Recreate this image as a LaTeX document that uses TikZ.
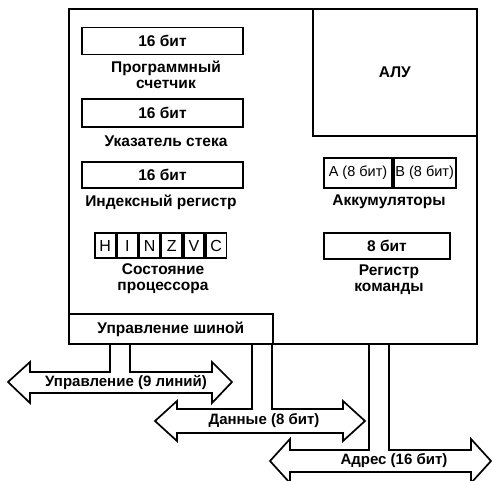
\documentclass[tikz,border=0pt]{standalone}
\usepackage{fontspec}
\setmainfont{Liberation Sans}
\usetikzlibrary{positioning}

\begin{document}
\begin{tikzpicture}[
    x=1pt, y=-1pt,
    line width=1.7pt,
    box/.style={rectangle, draw, inner sep=0pt},
    reg/.style={box, minimum width=161pt, minimum height=27pt, font=\bfseries\fontsize{15.5}{17}\selectfont},
    caption/.style={align=center, inner sep=0pt, font=\bfseries\fontsize{15.5}{16}\selectfont},
    buslbl/.style={inner sep=0pt, font=\bfseries\fontsize{15}{17}\selectfont},
    flag/.style={box, minimum width=20.5pt, minimum height=25pt, font=\fontsize{16}{18}\selectfont},
    acc/.style={box, minimum height=30pt, font=\fontsize{14.5}{16}\selectfont},
    bus/.style={draw, line join=miter}
]
    \useasboundingbox (0,0) rectangle (492,481);

    % Processor and ALU
    \node[box, minimum width=408pt, minimum height=335pt, anchor=north west] (cpu) at (68,8) {};
    \node[box, minimum width=164pt, minimum height=127pt, anchor=north east, font=\bfseries\fontsize{15.5}{17}\selectfont] (alu) at (cpu.north east) {АЛУ};

    % 16-bit registers
    \node[reg] (pc) at (162.5,41) {16 бит};
    \node[caption] (pclbl) at (166,74.5) {Программный\\счетчик};
    \node[reg, minimum height=28pt] (sp) at (162.5,113) {16 бит};
    \node[caption] (splbl) at (166,141) {Указатель стека};
    \node[reg, minimum height=26pt] (ix) at (162.5,175) {16 бит};
    \node[caption] (ixlbl) at (161,202) {Индексный регистр};

    % Status flags
    \node[flag] (fh) at (105.25,245.5) {H};
    \node[flag, right=0pt of fh] (fi) {I};
    \node[flag, right=0pt of fi] (fn) {N};
    \node[flag, right=0pt of fn] (fz) {Z};
    \node[flag, right=0pt of fz] (fv) {V};
    \node[flag, right=0pt of fv] (fc) {C};
    \node[caption] (flaglbl) at (163,278.5) {Состояние\\процессора};

    % Accumulators and instruction register
    \node[acc, minimum width=68pt] (acca) at (358,173) {A (8 бит)};
    \node[acc, minimum width=62pt, right=0pt of acca] (accb) {B (8 бит)};
    \node[caption] (acclbl) at (389,202) {Аккумуляторы};
    \node[reg, minimum width=126pt, minimum height=26pt] (ir) at (387,246) {8 бит};
    \node[caption] (irlbl) at (389,280) {Регистр\\команды};

    % Bus control
    \node[box, minimum width=204pt, minimum height=30pt, anchor=south west, font=\bfseries\fontsize{15.5}{17}\selectfont] (busctl) at (cpu.south west) {Управление шиной};

    % Buses
    \draw[bus] (busctl.south -| 110,0) -- (110,372) -- (30,372) -- (30,362) -- (8,382) -- (30,403) -- (30,393)
        -- (212,393) -- (212,403) -- (232,382) -- (212,362) -- (212,372) -- (130,372) -- (busctl.south -| 130,0);
    \node[buslbl] (ctlbus) at (126,382) {Управление (9 линий)};

    \draw[bus] (cpu.south -| 252,0) -- (252,409) -- (177,409) -- (177,401) -- (155,421) -- (177,441) -- (177,433)
        -- (343,433) -- (343,441) -- (365,421) -- (343,401) -- (343,409) -- (272,409) -- (cpu.south -| 272,0);
    \node[buslbl] (databus) at (264,421) {Данные (8 бит)};

    \draw[bus] (cpu.south -| 369,0) -- (369,450) -- (290,450) -- (290,439) -- (270,461) -- (290,483) -- (290,472)
        -- (471,472) -- (471,483) -- (491,461) -- (471,439) -- (471,450) -- (389,450) -- (cpu.south -| 389,0);
    \node[buslbl] (addrbus) at (394,461) {Адрес (16 бит)};
\end{tikzpicture}
\end{document}
